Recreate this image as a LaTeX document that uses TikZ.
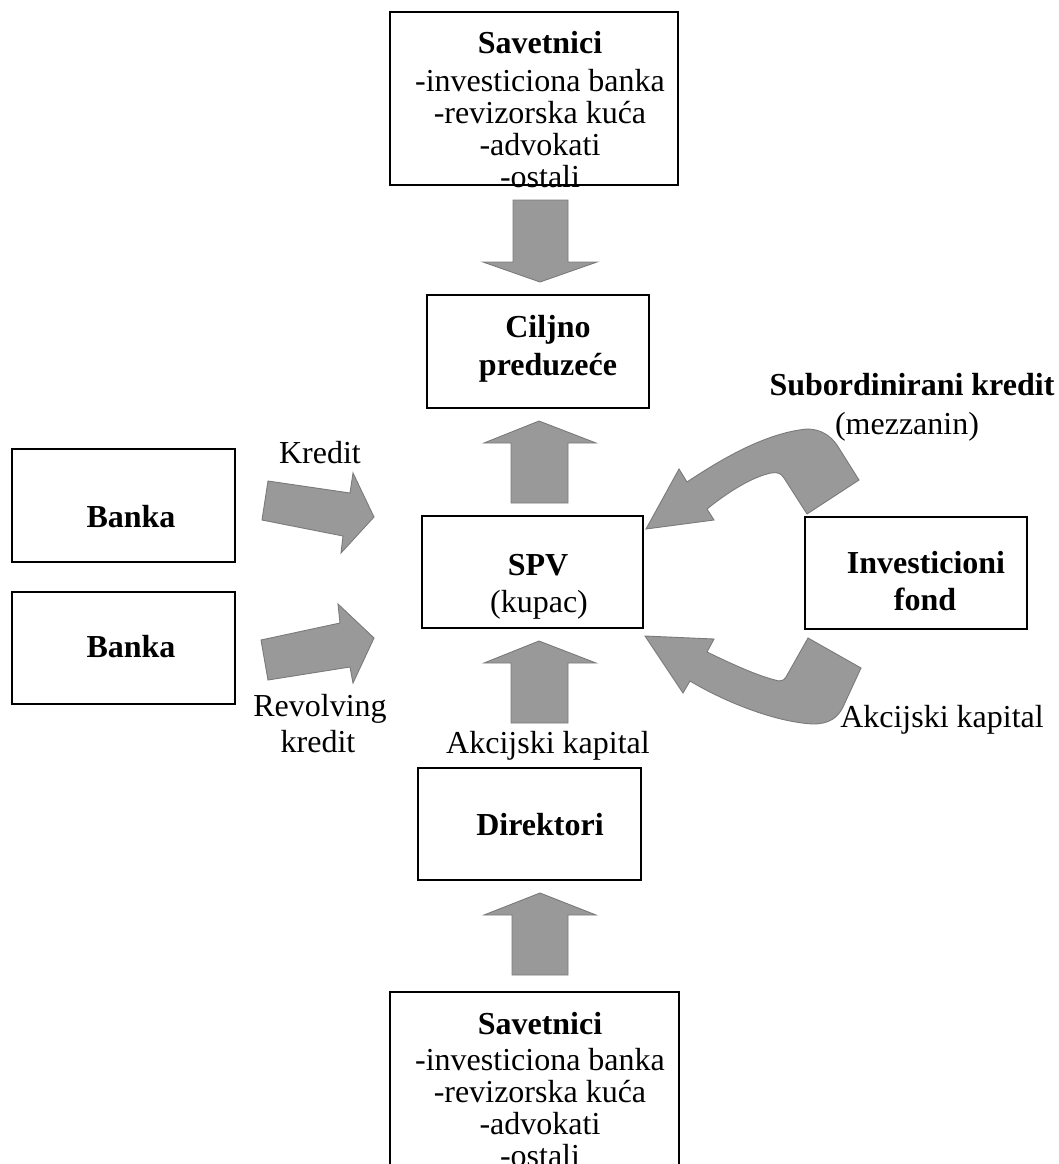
\documentclass[tikz,border=0pt]{standalone}
\usepackage{fontspec}
\setmainfont{Liberation Serif}
\usetikzlibrary{fit}
\begin{document}
\begin{tikzpicture}[x=1pt,y=-1pt,
  box/.style={draw=black, line width=1.8pt, inner sep=0pt},
  txt/.style={font=\fontsize{32}{38}\selectfont, inner sep=0pt, anchor=base},
  btxt/.style={font=\fontsize{32}{38}\selectfont\bfseries, inner sep=0pt, anchor=base},
  blockarrow/.style={fill=black!40, draw=black!52, line width=0.9pt, line join=miter}]
\useasboundingbox (0,0) rectangle (1058,1164);

% ---------- boxes ----------
\node[box, fit={(390,12) (678,185)}] (sav1) {};
\node[box, fit={(427,295) (649,408)}] (cilj) {};
\node[box, fit={(422,516) (643,628)}] (spv) {};
\node[box, fit={(418,768) (641,880)}] (dir) {};
\node[box, fit={(390,992) (679,1185)}] (sav2) {};
\node[box, fit={(12,449) (235,562)}] (bank1) {};
\node[box, fit={(12,592) (235,704)}] (bank2) {};
\node[box, fit={(805,517) (1027,629)}] (fond) {};

% ---------- box texts ----------
\node[btxt] (sav1a) at (540,54) {Savetnici};
\node[txt]  (sav1b) at (540,91) {-investiciona banka};
\node[txt]  (sav1c) at (540,123) {-revizorska kuća};
\node[txt]  (sav1d) at (540,155) {-advokati};
\node[txt]  (sav1e) at (540,187) {-ostali};

\node[btxt] (cilja) at (548,337) {Ciljno};
\node[btxt] (ciljb) at (548,375) {preduzeće};

\node[btxt] (spva) at (538,575) {SPV};
\node[txt]  (spvb) at (539,612) {(kupac)};

\node[btxt] (dira) at (540,835) {Direktori};

\node[btxt] (sav2a) at (540,1034) {Savetnici};
\node[txt]  (sav2b) at (540,1070) {-investiciona banka};
\node[txt]  (sav2c) at (540,1102) {-revizorska kuća};
\node[txt]  (sav2d) at (540,1134) {-advokati};
\node[txt]  (sav2e) at (540,1166) {-ostali};

\node[btxt] (bank1a) at (131,527) {Banka};
\node[btxt] (bank2a) at (131,657) {Banka};

\node[btxt] (fonda) at (926,573) {Investicioni};
\node[btxt] (fondb) at (925,610) {fond};

% ---------- labels ----------
\node[txt]  (lkred) at (320,463) {Kredit};
\node[txt]  (lrev1) at (320,716) {Revolving};
\node[txt]  (lrev2) at (318,752) {kredit};
\node[txt]  (lakc1) at (548,753) {Akcijski kapital};
\node[txt]  (lakc2) at (942,727) {Akcijski kapital};
\node[btxt] (lsub1) at (912,395) {Subordinirani kredit};
\node[txt]  (lsub2) at (907,434) {(mezzanin)};

% ---------- straight block arrows ----------
% Savetnici -> Ciljno (down)
\draw[blockarrow] (513,200) -- (568,200) -- (568,262) -- (597,262) -- (540,282)
  -- (483,262) -- (513,262) -- cycle;
% SPV -> Ciljno (up)
\draw[blockarrow] (511,503) -- (568,503) -- (568,443) -- (596,443) -- (539,421)
  -- (484,443) -- (511,443) -- cycle;
% Direktori -> SPV (up)
\draw[blockarrow] (511,723) -- (568,723) -- (568,663) -- (596,663) -- (539,641)
  -- (484,663) -- (511,663) -- cycle;
% Savetnici -> Direktori (up)
\draw[blockarrow] (512,975) -- (568,975) -- (568,915) -- (596,915) -- (540,893)
  -- (484,915) -- (512,915) -- cycle;
% Banka -> SPV (Kredit)
\draw[blockarrow] (268,481) -- (350,493) -- (353,473) -- (374,517) -- (341,553)
  -- (343,536) -- (262,520) -- cycle;
% Banka -> SPV (Revolving kredit)
\draw[blockarrow] (261,640) -- (340,623) -- (338,604) -- (374,638) -- (353,683)
  -- (350,667) -- (268,680) -- cycle;

% ---------- curved block arrows ----------
% Investicioni fond -> SPV (Subordinirani kredit)
\draw[blockarrow] (646,529) -- (679,469) -- (687,482)
  .. controls (720,460) and (765,433) .. (807,429)
  .. controls (820,429) and (830,435) .. (837,445)
  -- (859,480) -- (807,514) -- (784,478)
  .. controls (781,473) and (777,472) .. (771,473)
  .. controls (752,477) and (728,492) .. (707,509)
  -- (714,520) -- cycle;
% Investicioni fond -> SPV (Akcijski kapital)
\draw[blockarrow] (645,636) -- (714,639) -- (707,652)
  .. controls (730,663) and (757,676) .. (779,681)
  .. controls (782,681) and (784,680) .. (786,677)
  -- (808,638) -- (861,668) -- (843,707)
  .. controls (838,717) and (830,724) .. (813,724)
  .. controls (775,722) and (725,702) .. (690,681)
  -- (683,693) -- cycle;
\end{tikzpicture}
\end{document}
